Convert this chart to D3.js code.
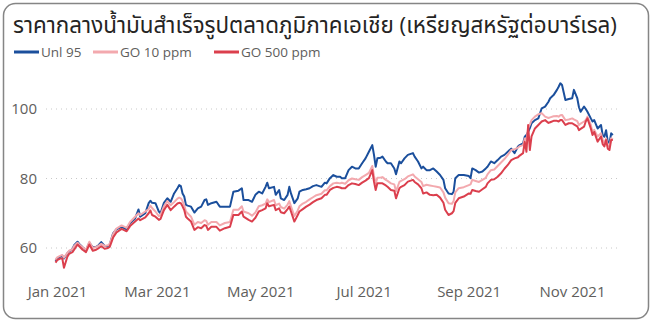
<!DOCTYPE html>
<html><head><meta charset="utf-8">
<script src="https://cdn.jsdelivr.net/npm/d3@7"></script>
<style>
html,body{margin:0;padding:0;background:#fff;}
svg{display:block;}
text{font-family:"Segoe UI","Open Sans","Noto Sans Thai","Noto Sans",sans-serif;}
</style></head>
<body><svg id="c" width="652" height="323"></svg>
<script>
const title = "ราคากลางน้ำมันสำเร็จรูปตลาดภูมิภาคเอเชีย (เหรียญสหรัฐต่อบาร์เรล)";
const seriesNames = ["Unl 95", "GO 10 ppm", "GO 500 ppm"];
const seriesColors = ["#1b4f9c", "#f3a9ae", "#db3f4d"];
const yTicks = [60, 80, 100];
const xTicks = ["2021-01-01","2021-03-01","2021-05-01","2021-07-01","2021-09-01","2021-11-01"];

const dates = [
"2021-01-01","2021-01-02","2021-01-04","2021-01-05","2021-01-06","2021-01-08","2021-01-09","2021-01-11","2021-01-12","2021-01-14",
"2021-01-15","2021-01-17","2021-01-19","2021-01-21","2021-01-23","2021-01-25","2021-01-26","2021-01-28","2021-01-30","2021-02-01",
"2021-02-02","2021-02-04","2021-02-06","2021-02-09","2021-02-12","2021-02-14","2021-02-17","2021-02-19","2021-02-20","2021-02-23",
"2021-02-25","2021-02-26","2021-02-27","2021-03-01","2021-03-03","2021-03-04","2021-03-06","2021-03-08","2021-03-10","2021-03-12",
"2021-03-14","2021-03-15","2021-03-16","2021-03-17","2021-03-18","2021-03-19","2021-03-20","2021-03-22","2021-03-24","2021-03-26",
"2021-03-28","2021-03-30","2021-03-31","2021-04-01","2021-04-03","2021-04-06","2021-04-08","2021-04-11","2021-04-14","2021-04-16",
"2021-04-19","2021-04-21","2021-04-22","2021-04-25","2021-04-27","2021-04-29","2021-05-01","2021-05-03","2021-05-05","2021-05-06",
"2021-05-07","2021-05-10","2021-05-11","2021-05-13","2021-05-14","2021-05-16","2021-05-18","2021-05-19","2021-05-20","2021-05-22",
"2021-05-24","2021-05-25","2021-05-27","2021-05-29","2021-05-31","2021-06-02","2021-06-04","2021-06-07","2021-06-09","2021-06-10",
"2021-06-12","2021-06-14","2021-06-16","2021-06-18","2021-06-19","2021-06-21","2021-06-23","2021-06-25","2021-06-27","2021-06-29",
"2021-07-01","2021-07-03","2021-07-05","2021-07-07","2021-07-08","2021-07-09","2021-07-10","2021-07-12","2021-07-13","2021-07-15",
"2021-07-16","2021-07-18","2021-07-20","2021-07-21","2021-07-23","2021-07-24","2021-07-26","2021-07-28","2021-07-31","2021-08-01",
"2021-08-03","2021-08-05","2021-08-06","2021-08-08","2021-08-10","2021-08-12","2021-08-14","2021-08-16","2021-08-18","2021-08-19",
"2021-08-21","2021-08-23","2021-08-24","2021-08-25","2021-08-27","2021-08-30","2021-09-02","2021-09-03","2021-09-04","2021-09-06",
"2021-09-08","2021-09-10","2021-09-12","2021-09-13","2021-09-15","2021-09-17","2021-09-19","2021-09-21","2021-09-23","2021-09-25",
"2021-09-27","2021-09-29","2021-10-01","2021-10-02","2021-10-04","2021-10-05","2021-10-06","2021-10-07","2021-10-08","2021-10-09",
"2021-10-11","2021-10-13","2021-10-15","2021-10-17","2021-10-19","2021-10-20","2021-10-22","2021-10-24","2021-10-25","2021-10-26",
"2021-10-27","2021-10-29","2021-10-31","2021-11-02","2021-11-03","2021-11-05","2021-11-06","2021-11-07","2021-11-09","2021-11-10",
"2021-11-11","2021-11-13","2021-11-14","2021-11-15","2021-11-17","2021-11-19","2021-11-20","2021-11-21","2021-11-22","2021-11-23",
"2021-11-24","2021-11-25","2021-11-26"];

const unl95 = [
56.3,57.0,57.5,57.8,57.0,58.5,59.0,59.6,60.8,61.8,
61.2,60.2,59.4,61.5,60.2,60.4,60.6,61.7,60.6,60.6,
61.0,64.2,65.4,66.1,65.4,67.1,68.5,71.1,69.0,70.0,
72.9,73.6,73.0,72.9,70.5,70.0,73.0,74.3,73.3,75.7,
77.2,78.1,77.8,75.7,74.8,72.4,72.2,71.9,70.2,71.4,
71.9,73.8,74.0,72.4,72.9,73.3,71.9,71.9,71.9,76.2,
76.5,77.2,73.8,73.8,73.3,75.3,76.2,75.7,77.6,78.8,
77.2,77.6,75.3,76.7,74.3,73.8,75.3,77.6,75.7,72.9,
74.3,76.2,76.7,76.9,77.2,77.8,78.1,77.6,78.8,78.6,
80.1,81.0,80.5,80.5,80.1,80.1,82.4,83.4,82.9,82.9,
84.4,85.8,87.7,89.6,86.8,83.4,85.8,86.0,86.3,84.9,
84.4,84.4,82.9,81.2,84.9,84.4,85.8,86.8,87.3,86.3,
84.9,82.9,83.4,82.4,82.4,82.9,82.0,81.0,79.6,77.2,
75.7,75.5,76.2,80.1,81.0,81.0,80.7,80.1,82.9,82.4,
81.7,82.0,82.9,83.4,84.9,84.4,85.3,86.3,86.8,87.7,
88.6,87.3,89.2,89.6,90.1,92.0,92.5,93.4,94.5,95.9,
96.8,97.3,100.2,100.7,102.1,103.1,104.0,105.5,106.4,107.4,
106.9,102.6,102.9,103.1,105.5,103.1,100.5,99.2,100.7,100.0,
99.2,97.3,96.4,96.8,94.4,95.4,92.5,92.0,93.9,90.6,
90.2,93.0,92.5];

const go10 = [
56.6,57.3,57.8,58.0,57.2,58.6,59.2,59.6,60.6,61.5,
61.0,60.2,59.5,61.8,60.0,60.3,60.5,61.2,60.6,60.8,
61.2,64.0,65.6,66.5,65.8,67.5,69.0,70.0,69.5,70.5,
71.2,72.2,71.5,70.5,69.2,69.5,72.0,73.5,72.3,73.2,
74.2,74.5,74.3,73.5,72.3,70.5,70.0,69.0,66.7,67.5,
67.2,68.0,67.8,66.7,67.5,67.5,66.5,67.2,67.5,71.0,
71.0,72.0,70.5,70.0,69.3,70.2,72.0,72.3,72.8,74.0,
73.2,73.8,72.3,72.8,71.8,71.3,72.5,73.5,72.0,69.2,
70.8,72.0,72.8,73.3,74.0,74.6,75.2,75.6,76.6,76.6,
77.8,78.6,78.8,78.6,78.8,78.5,79.5,80.0,79.8,79.6,
80.4,81.0,81.6,83.6,80.8,78.5,80.2,80.3,80.4,79.6,
79.3,78.6,78.3,76.3,79.0,79.3,79.8,80.6,81.2,80.6,
79.8,79.0,77.8,78.2,78.0,77.8,77.6,77.4,76.0,74.5,
72.9,72.7,73.5,76.0,77.2,77.5,78.1,78.3,79.6,79.3,
79.0,79.6,80.2,81.2,82.4,82.6,83.6,84.6,85.6,86.8,
88.2,88.4,88.9,89.3,89.6,91.5,91.0,94.5,95.5,96.8,
97.8,98.5,98.8,97.8,97.4,97.6,97.9,98.0,97.8,98.2,
98.3,96.8,97.0,97.3,97.0,96.5,95.4,95.8,96.4,96.8,
97.8,95.4,93.4,94.0,92.1,93.0,91.2,90.1,91.5,89.5,
89.2,91.6,91.2];

const go500 = [
55.8,56.5,57.0,57.0,54.3,57.5,58.3,58.8,59.5,61.0,
60.5,59.5,58.8,61.0,59.2,59.5,59.8,60.5,59.8,60.0,
60.3,63.0,64.5,65.5,64.8,66.3,67.6,68.5,68.0,68.8,
70.0,70.8,69.5,69.0,68.1,68.4,70.9,72.4,70.9,71.9,
72.8,73.0,72.9,72.0,70.9,69.0,68.5,67.6,65.2,66.0,
65.7,66.6,66.4,65.2,66.1,66.1,65.0,65.7,66.1,69.5,
69.5,70.5,69.0,68.1,67.6,68.7,70.5,70.9,71.4,72.9,
72.0,72.4,70.9,71.4,70.3,70.0,71.2,71.9,70.5,67.6,
69.5,70.5,71.2,71.9,72.5,73.2,73.8,74.3,75.3,75.3,
76.7,77.3,77.6,77.4,77.2,77.2,78.1,78.6,78.4,78.1,
78.8,79.4,80.1,82.4,79.1,76.7,78.6,78.6,78.6,78.0,
77.6,76.7,76.5,74.3,77.2,77.6,78.1,79.1,79.6,79.0,
78.3,77.2,75.7,76.0,75.3,75.2,75.3,74.5,73.0,71.0,
69.5,70.0,70.6,73.0,74.3,74.8,75.7,75.6,76.7,76.4,
76.2,76.9,77.6,78.6,79.6,79.8,80.5,81.5,82.8,83.9,
85.3,85.8,86.1,86.6,87.3,90.6,87.7,95.4,88.2,92.1,
94.4,95.4,96.4,96.8,96.0,96.2,96.6,96.6,96.4,96.8,
96.8,95.4,95.9,95.9,95.6,95.0,93.9,94.3,94.9,96.4,
97.3,94.4,92.5,93.4,90.6,92.1,89.9,89.2,91.1,88.6,
88.2,91.1,91.1];

const series = [unl95, go10, go500];
const parse = d3.utcParse("%Y-%m-%d");
const X = dates.map(parse);

const svg = d3.select("#c");

// card
svg.append("rect").attr("x",3.5).attr("y",3.5).attr("width",645).attr("height",315)
  .attr("rx",12).attr("ry",12).attr("fill","#fff").attr("stroke","#858585").attr("stroke-width",1.5);

// title
svg.append("text").attr("x",13).attr("y",33).attr("font-size",22.4).attr("fill","#252423").text(title);

// legend
const legX = [14, 93, 214];
seriesNames.forEach((n,i)=>{
  const g = svg.append("g").attr("transform",`translate(${legX[i]},52)`);
  g.append("line").attr("x1",0).attr("x2",25).attr("y1",0).attr("y2",0)
    .attr("stroke",seriesColors[i]).attr("stroke-width",3);
  g.append("text").attr("x",27).attr("y",0).attr("dy","0.35em").attr("font-size",13.5)
    .attr("fill","#605e5c").text(n);
});

const x = d3.scaleUtc().domain([parse("2021-01-01"), parse("2021-11-01")]).range([55.5, 570.5]);
const y = d3.scaleLinear().domain([60, 100]).range([248, 109]);

// grid
svg.append("g").selectAll("line").data(yTicks).join("line")
  .attr("x1",46).attr("x2",621).attr("y1",d=>y(d)).attr("y2",d=>y(d))
  .attr("stroke","#c8c8c8").attr("stroke-width",1).attr("stroke-dasharray","1,4");

// y axis labels
const yAxis = d3.axisLeft(y).tickValues(yTicks).tickSize(0).tickPadding(0);
const gy = svg.append("g").attr("transform","translate(37,0)").call(yAxis);
gy.select(".domain").remove();
gy.selectAll("text").attr("font-size",15).attr("fill","#605e5c").attr("font-family",null);

// x axis labels
const xAxis = d3.axisBottom(x).tickValues(xTicks.map(parse)).tickFormat(d3.utcFormat("%b %Y")).tickSize(0).tickPadding(0);
const gx = svg.append("g").attr("transform","translate(1.5,286)").call(xAxis);
gx.select(".domain").remove();
gx.selectAll("text").attr("font-size",15).attr("fill","#605e5c").attr("font-family",null);

// lines
series.forEach((s,i)=>{
  const line = d3.line().x((d,j)=>x(X[j])).y(d=>y(d));
  svg.append("path").datum(s).attr("d",line).attr("fill","none")
    .attr("stroke",seriesColors[i]).attr("stroke-width",2).attr("stroke-linejoin","round");
});
</script></body></html>
